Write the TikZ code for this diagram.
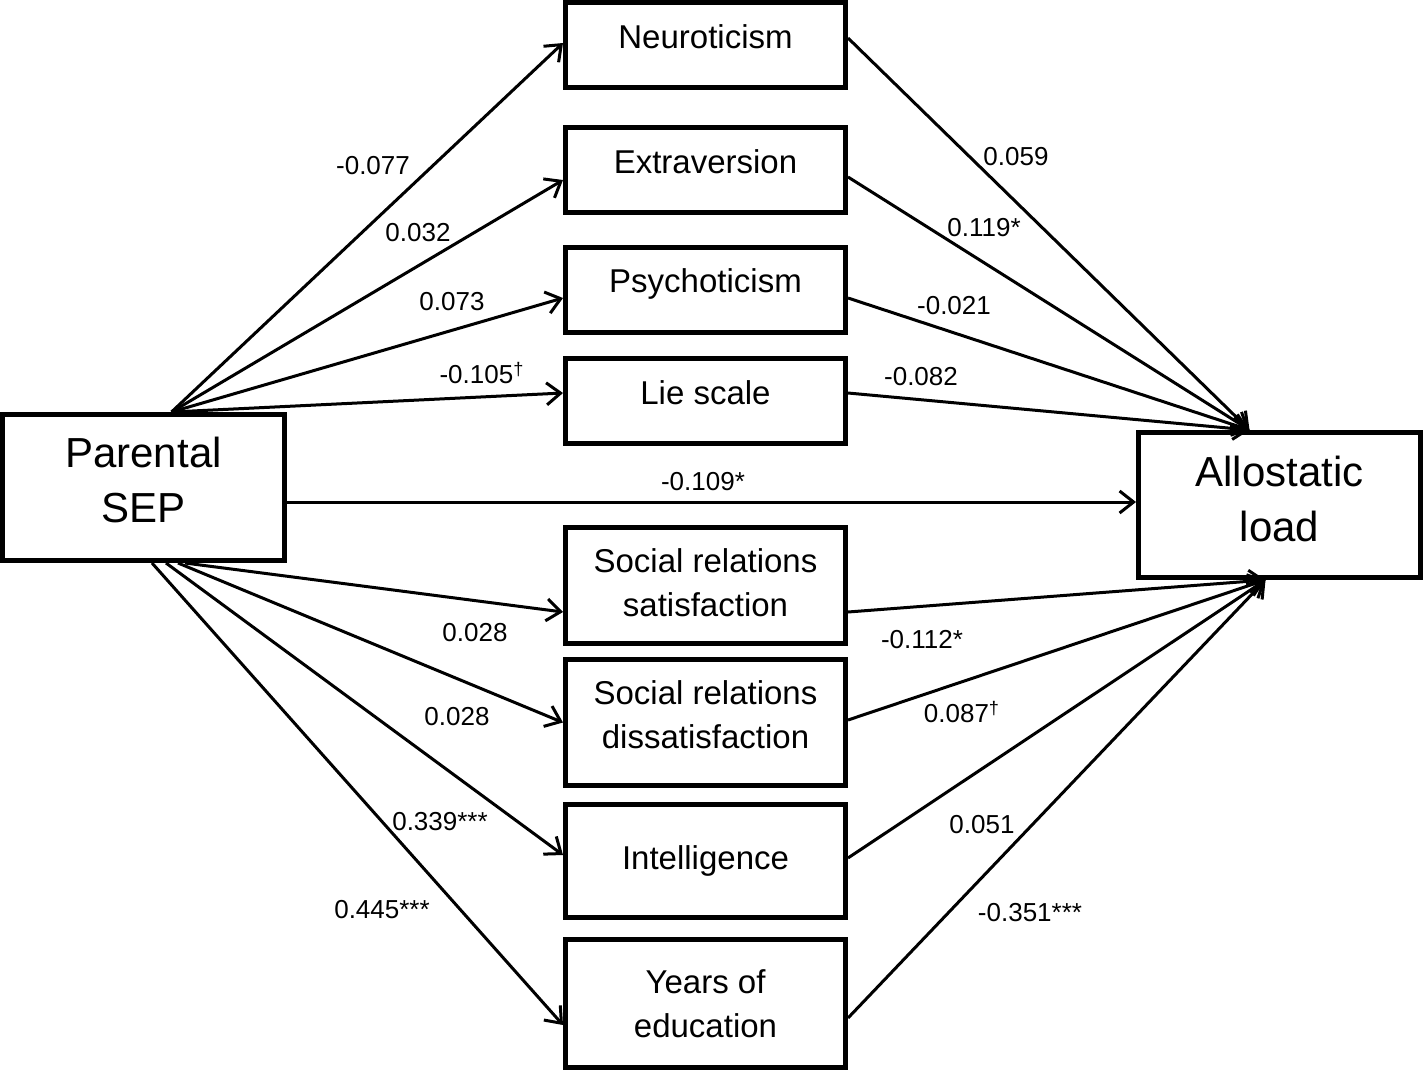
\documentclass[tikz,border=0pt]{standalone}
\usepackage{fontspec}
\setmainfont{Liberation Sans}
\usetikzlibrary{positioning, arrows.meta}

\begin{document}
\begin{tikzpicture}[x=0.5pt, y=-0.5pt, on grid, line width=1.5pt,
    >={Straight Barb[length=7pt,width=11pt]},
    box/.style={draw, line width=2.5pt, minimum width=140pt, minimum height=42.5pt,
                align=center, font=\fontsize{16.5}{22}\selectfont},
    bigbox/.style={box, minimum width=141pt, minimum height=73pt,
                   font=\fontsize{21}{27.5}\selectfont},
    wt/.style={font=\fontsize{13}{15}\selectfont, inner sep=0pt}]
        \useasboundingbox (0,0) rectangle (1424,1072);
        % exposure and outcome
        \node[bigbox, text depth=8pt] (sep) at (143.5,487.5) {Parental\\SEP};
        \node[bigbox, text depth=6pt, minimum height=72.5pt] (allo) at (1279.5,505) {Allostatic\\load};
        % mediators
        \node[box, text depth=8pt] (neuro) at (705.5,45) {Neuroticism};
        \node[box, text depth=8.5pt] (extra) [below=62.5pt of neuro] {Extraversion};
        \node[box, text depth=9.5pt] (psych) [below=60pt of extra] {Psychoticism};
        \node[box, text depth=8pt] (lie) [below=55.25pt of psych] {Lie scale};
        \node[box, text depth=3pt, minimum height=58pt] (sat) [below=92.5pt of lie] {Social relations\\satisfaction};
        \node[box, text depth=8pt, minimum height=63pt] (dissat) [below=68.5pt of sat] {Social relations\\dissatisfaction};
        \node[box, minimum height=56.5pt] (intel) [below=69.25pt of dissat] {Intelligence};
        \node[box, minimum height=64pt] (years) [below=71.25pt of intel] {Years of\\education};
        \coordinate (sep_top) at ([xshift=14pt]sep.north);
        \coordinate (allo_top) at ([xshift=-15pt]allo.north);
        \coordinate (allo_bot) at ([xshift=-7pt]allo.south);
        \path[->]
        (sep_top) edge ([yshift=1pt]neuro.west)
                  edge ([yshift=-5pt]extra.west)
                  edge ([yshift=-4pt]psych.west)
                  edge ([yshift=3.75pt]lie.west)
        ([xshift=20.75pt]sep.south) edge ([yshift=-13.25pt]sat.west)
        ([xshift=17.25pt]sep.south) edge (dissat.west)
        ([xshift=11.25pt]sep.south) edge ([yshift=3pt]intel.west)
        ([xshift=4.25pt]sep.south) edge ([yshift=-10.75pt]years.west)
        ([yshift=-7.25pt]sep.east) edge ([yshift=1.5pt]allo.west)
        ([yshift=3.5pt]neuro.east) edge (allo_top)
        ([yshift=-3.5pt]extra.east) edge (allo_top)
        ([yshift=-4pt]psych.east) edge (allo_top)
        ([yshift=3.75pt]lie.east) edge (allo_top)
        ([yshift=-13.25pt]sat.east) edge (allo_bot)
        ([yshift=1.25pt]dissat.east) edge (allo_bot)
        ([yshift=1.5pt]intel.east) edge (allo_bot)
        ([yshift=-7.25pt]years.east) edge (allo_bot);
        % path coefficients
        \node[wt] (w_neuro) at (373,166) {-0.077};
        \node[wt] (w_extra) at (418,233) {0.032};
        \node[wt] (w_psych) at (452,302) {0.073};
        \node[wt] (w_lie) at (482,373) {-0.105\textsuperscript{\textdagger}};
        \node[wt] (w_sat) at (475,633) {0.028};
        \node[wt] (w_dissat) at (457,717) {0.028};
        \node[wt] (w_intel) at (440,822) {0.339***};
        \node[wt] (w_years) at (382,910) {0.445***};
        \node[wt] (w_direct) at (703,482) {-0.109*};
        \node[wt] (v_neuro) at (1016,157) {0.059};
        \node[wt] (v_extra) at (984,228) {0.119*};
        \node[wt] (v_psych) at (954,306) {-0.021};
        \node[wt] (v_lie) at (921,377) {-0.082};
        \node[wt] (v_sat) at (922,640) {-0.112*};
        \node[wt] (v_dissat) at (962,712) {0.087\textsuperscript{\textdagger}};
        \node[wt] (v_intel) at (982,825) {0.051};
        \node[wt] (v_years) at (1030,913) {-0.351***};
\end{tikzpicture}
\end{document}
